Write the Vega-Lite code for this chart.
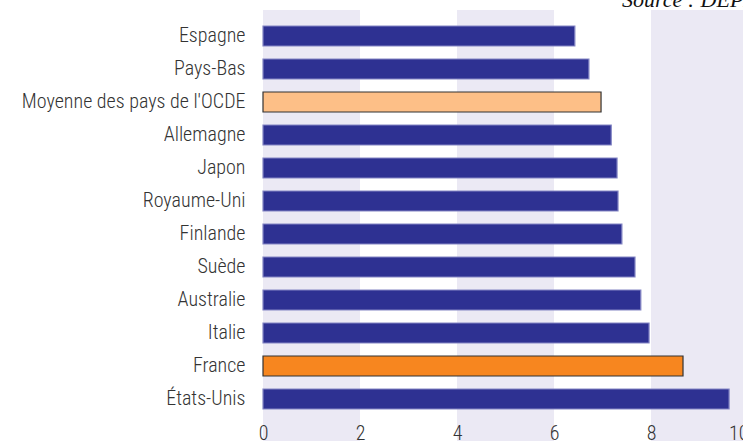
{
  "$schema": "https://vega.github.io/schema/vega-lite/v6.json",
  "width": 485,
  "height": 431,
  "autosize": "none",
  "padding": {"left": 263, "top": 10, "right": 0, "bottom": 0},
  "background": "white",
  "config": {"view": {"stroke": null}},
  "title": {
    "text": "Source : DEPP",
    "anchor": "start",
    "frame": "group",
    "dx": 359,
    "dy": 19,
    "offset": 0,
    "baseline": "alphabetic",
    "font": "Liberation Serif",
    "fontStyle": "italic",
    "fontWeight": "normal",
    "fontSize": 22,
    "color": "#111",
    "zindex": 2
  },
  "layer": [
    {
      "data": {"values": [
        {"start": 0, "end": 2},
        {"start": 4, "end": 6},
        {"start": 8, "end": 10}
      ]},
      "mark": {"type": "rect", "color": "#ebe9f4"},
      "encoding": {
        "x": {"field": "start", "type": "quantitative", "scale": {"domain": [0, 10], "nice": false, "zero": true},
          "axis": {"values": [0, 2, 4, 6, 8, 10], "grid": false, "domain": false, "ticks": false, "labelFlush": false, "zindex": 1,
            "labelAlign": {"expr": "datum.value == 10 ? 'right' : 'center'"},
            "labelFont": "Roboto Condensed, Liberation Sans Narrow, Roboto", "labelFontWeight": 300, "labelFontSize": 20, "labelColor": "#333",
            "labelPadding": 0, "offset": -18, "title": null}},
        "x2": {"field": "end"}
      }
    },
    {
      "data": {"values": [
        {"pays": "Espagne", "valeur": 6.43, "groupe": "pays"},
        {"pays": "Pays-Bas", "valeur": 6.72, "groupe": "pays"},
        {"pays": "Moyenne des pays de l'OCDE", "valeur": 6.97, "groupe": "ocde"},
        {"pays": "Allemagne", "valeur": 7.18, "groupe": "pays"},
        {"pays": "Japon", "valeur": 7.30, "groupe": "pays"},
        {"pays": "Royaume-Uni", "valeur": 7.32, "groupe": "pays"},
        {"pays": "Finlande", "valeur": 7.40, "groupe": "pays"},
        {"pays": "Suède", "valeur": 7.67, "groupe": "pays"},
        {"pays": "Australie", "valeur": 7.79, "groupe": "pays"},
        {"pays": "Italie", "valeur": 7.96, "groupe": "pays"},
        {"pays": "France", "valeur": 8.66, "groupe": "france"},
        {"pays": "États-Unis", "valeur": 9.61, "groupe": "pays"}
      ]},
      "mark": {"type": "bar", "strokeWidth": 1.2},
      "encoding": {
        "y": {"field": "pays", "type": "nominal", "sort": null,
          "scale": {"paddingInner": 0.394, "paddingOuter": 0.727, "align": 0.333},
          "axis": {"domain": false, "ticks": false, "grid": false, "title": null, "labelPadding": 18, "labelLimit": 400,
            "labelFont": "Roboto Condensed, Liberation Sans Narrow, Roboto", "labelFontWeight": 300, "labelFontSize": 20, "labelColor": "#333"}},
        "x": {"field": "valeur", "type": "quantitative"},
        "color": {"field": "groupe", "type": "nominal", "legend": null,
          "scale": {"domain": ["pays", "ocde", "france"], "range": ["#2e3192", "#fdbf87", "#f7861f"]}},
        "stroke": {"field": "groupe", "type": "nominal", "legend": null,
          "scale": {"domain": ["pays", "ocde", "france"], "range": ["#8385c4", "#333333", "#333333"]}}
      }
    }
  ]
}
